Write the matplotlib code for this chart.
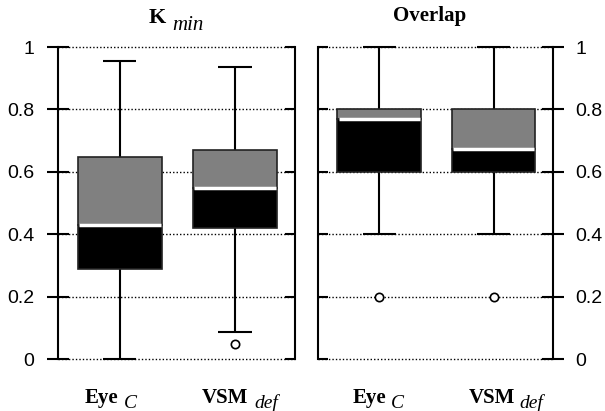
import numpy as np
import matplotlib.pyplot as plt
from matplotlib.transforms import offset_copy

# box statistics
labels = ["Eye", "VSM"]
subs = ["C", "def"]

kmin_q1 = [0.288, 0.419]
kmin_med = [0.428, 0.547]
kmin_q3 = [0.646, 0.670]
kmin_lo = [0.0, 0.088]
kmin_hi = [0.955, 0.937]
kmin_out = [[], [0.048]]

ovl_q1 = [0.6, 0.6]
ovl_med = [0.768, 0.672]
ovl_q3 = [0.8, 0.8]
ovl_lo = [0.4, 0.4]
ovl_hi = [1.0, 1.0]
ovl_out = [[0.2], [0.2]]

yticks = [0, 0.2, 0.4, 0.6, 0.8, 1]
ytick_labels = ["0", "0.2", "0.4", "0.6", "0.8", "1"]

SERIF = "Liberation Serif"
SANS = "Liberation Sans"

fig = plt.figure(figsize=(6.05, 4.11), dpi=100)
ax1 = fig.add_axes([58/605, 52/411, 237/605, 312/411])
ax2 = fig.add_axes([318/605, 52/411, 235/605, 312/411])


def draw_boxes(ax, q1, med, q3, lo, hi, out):
  pos = np.arange(1, len(q1) + 1)
  w = 0.73
  cw = 0.29
  q1 = np.array(q1); med = np.array(med); q3 = np.array(q3)
  # whiskers
  ax.vlines(pos, hi, q3, color="black", lw=1.5, zorder=3)
  ax.vlines(pos, q1, lo, color="black", lw=1.5, zorder=3)
  ax.hlines(hi, pos - cw/2, pos + cw/2, color="black", lw=1.5, zorder=3, clip_on=False)
  ax.hlines(lo, pos - cw/2, pos + cw/2, color="black", lw=1.5, zorder=3, clip_on=False)
  # box halves
  ax.bar(pos, q3 - med, w, bottom=med, color="#808080", edgecolor="#222222", lw=1.2, zorder=4)
  ax.bar(pos, med - q1, w, bottom=q1, color="black", edgecolor="#222222", lw=1.2, zorder=4)
  ax.hlines(med, pos - w/2 + 0.01, pos + w/2 - 0.01, color="white", lw=2.5, zorder=5)
  for p, o in zip(pos, out):
    if o:
      ax.plot([p]*len(o), o, "o", ms=6, mfc="white", mec="black", mew=1.2, zorder=6)


def style_axes(ax, side):
  ax.set_xlim(0.465, 2.52)
  ax.set_ylim(0, 1)
  ax.set_xticks([])
  ax.set_yticks(yticks)
  for s in ["top", "bottom"]:
    ax.spines[s].set_visible(False)
  for s in ["left", "right"]:
    ax.spines[s].set_linewidth(1.5)
  ax.grid(axis="y", color="black", ls=(0, (1, 1.5)), lw=1.0)
  ax.set_axisbelow(True)
  for gl in ax.get_ygridlines():
    gl.set_clip_on(False)
  ax.set_yticklabels(ytick_labels, fontsize=14, family=SANS)
  ytr = ax.get_yaxis_transform()
  if side == "left":
    ax.tick_params(axis="y", direction="inout", length=16, width=1.5, pad=9,
                   left=True, right=False)
    # short inner ticks on the opposite spine
    ax.hlines(yticks, 1 - 10/237, 1, transform=ytr, color="black", lw=1.5, clip_on=False)
  else:
    ax.tick_params(axis="y", direction="inout", length=16, width=1.5, pad=8,
                   left=False, right=True, labelleft=False, labelright=True)
    ax.hlines(yticks, 0, 10/235, transform=ytr, color="black", lw=1.5, clip_on=False)


def xlabels(ax, offs):
  tr = ax.get_xaxis_transform()
  for i, (lab, sub) in enumerate(zip(labels, subs)):
    dx, dxs = offs[i]
    t1 = offset_copy(tr, fig=fig, x=dx, y=-44, units="dots")
    t2 = offset_copy(tr, fig=fig, x=dxs, y=-49, units="dots")
    ax.text(i + 1, 0, lab, transform=t1, ha="right", va="baseline",
            fontsize=15, fontweight="bold", family=SERIF)
    ax.text(i + 1, 0, sub, transform=t2, ha="left", va="baseline",
            fontsize=14, style="italic", family=SERIF)


draw_boxes(ax1, kmin_q1, kmin_med, kmin_q3, kmin_lo, kmin_hi, kmin_out)
draw_boxes(ax2, ovl_q1, ovl_med, ovl_q3, ovl_lo, ovl_hi, ovl_out)
style_axes(ax1, "left")
style_axes(ax2, "right")
xlabels(ax1, [(-1, 4), (13, 19)])
xlabels(ax2, [(7, 12), (22, 26)])

# titles
t_k = offset_copy(ax1.transAxes, fig=fig, x=-11, y=24, units="dots")
t_min = offset_copy(ax1.transAxes, fig=fig, x=-4, y=17, units="dots")
ax1.text(0.5, 1, "K", transform=t_k, ha="right", va="baseline",
         fontsize=16, fontweight="bold", family=SERIF)
ax1.text(0.5, 1, "min", transform=t_min, ha="left", va="baseline",
         fontsize=15, style="italic", family=SERIF)
t_ov = offset_copy(ax2.transAxes, fig=fig, x=-6, y=26, units="dots")
ax2.text(0.5, 1, "Overlap", transform=t_ov, ha="center", va="baseline",
         fontsize=15, fontweight="bold", family=SERIF)

fig.savefig("out.png", dpi=100)
